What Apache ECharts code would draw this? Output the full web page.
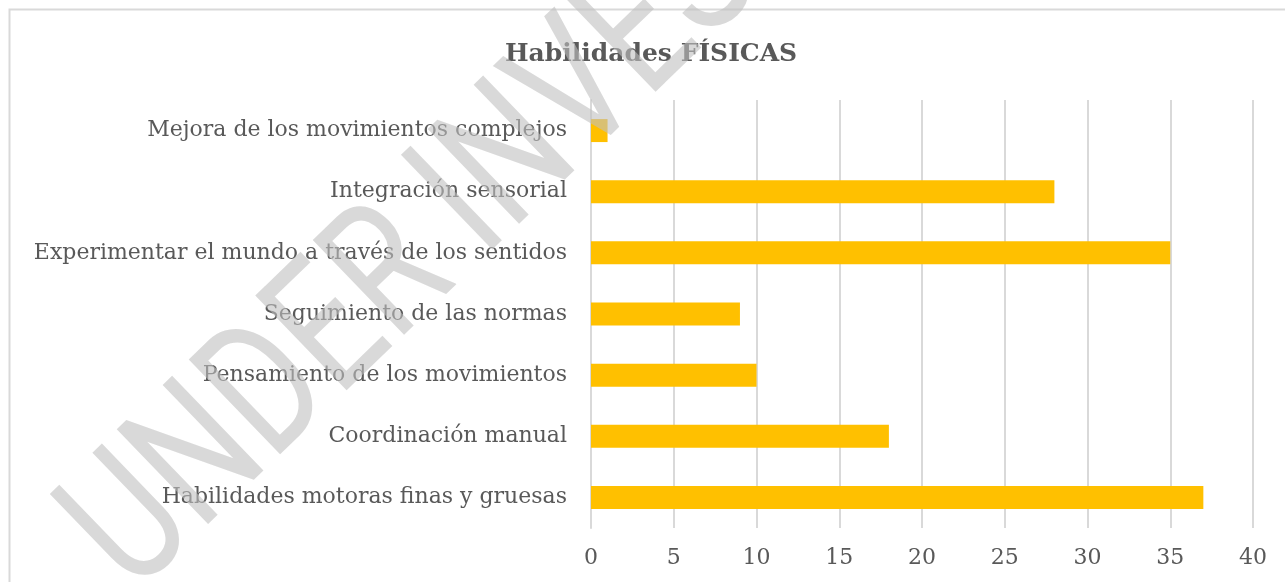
<!DOCTYPE html>
<html>
<head>
<meta charset="utf-8">
<script src="https://cdn.jsdelivr.net/npm/echarts@6/dist/echarts.min.js"></script>
<style>
html,body{margin:0;padding:0;background:#fff;}
#main{width:1285px;height:582px;}
</style>
</head>
<body>
<div id="main"></div>
<script>
// Data (bottom to top, as drawn by the category axis)
const categories = [
  'Habilidades motoras finas y gruesas',
  'Coordinación manual',
  'Pensamiento de los movimientos',
  'Seguimiento de las normas',
  'Experimentar el mundo a través de los sentidos',
  'Integración sensorial',
  'Mejora de los movimientos complejos'
];
const values = [37, 18, 10, 9, 35, 28, 1];
const titleText = 'Habilidades FÍSICAS';
const watermarkText = 'UNDER INVESTIGATION';

const chart = echarts.init(document.getElementById('main'), null, {renderer: 'canvas'});
const labelFont = 'DejaVu Serif';
chart.setOption({
  backgroundColor: '#ffffff',
  animation: false,
  title: {
    text: titleText,
    left: 500,
    top: 37,
    textStyle: {fontFamily: labelFont, fontWeight: 'bold', fontSize: 25, color: '#595959'}
  },
  grid: {left: 591, right: 32, top: 100, bottom: 54, containLabel: false},
  xAxis: {
    type: 'value',
    min: 0, max: 40, interval: 5,
    axisLine: {show: false},
    axisTick: {show: false},
    splitLine: {show: true, lineStyle: {color: '#d9d9d9', width: 2}},
    axisLabel: {color: '#595959', fontFamily: labelFont, fontSize: 22, margin: 19}
  },
  yAxis: {
    type: 'category',
    data: categories,
    axisLine: {show: true, lineStyle: {color: '#d9d9d9', width: 2}},
    axisTick: {show: false},
    axisLabel: {color: '#595959', fontFamily: labelFont, fontSize: 22, margin: 24}
  },
  series: [{
    type: 'bar',
    data: values,
    barWidth: 23,
    itemStyle: {color: '#FFC000'}
  }],
  graphic: [
    {
      type: 'rect', silent: true, z: 0,
      shape: {x: 9.5, y: 9.5, width: 1320, height: 640},
      style: {fill: 'none', stroke: '#d9d9d9', lineWidth: 2}
    },
    {
      type: 'text', silent: true, z: 100,
      x: 102, y: 562,
      rotation: 44 * Math.PI / 180,
      scaleX: 0.76,
      style: {
        text: watermarkText,
        fontFamily: 'Roboto',
        fontWeight: 400,
        fontSize: 185,
        fill: 'rgba(192,192,192,0.6)',
        align: 'left',
        verticalAlign: 'middle'
      }
    }
  ]
});
</script>
</body>
</html>
